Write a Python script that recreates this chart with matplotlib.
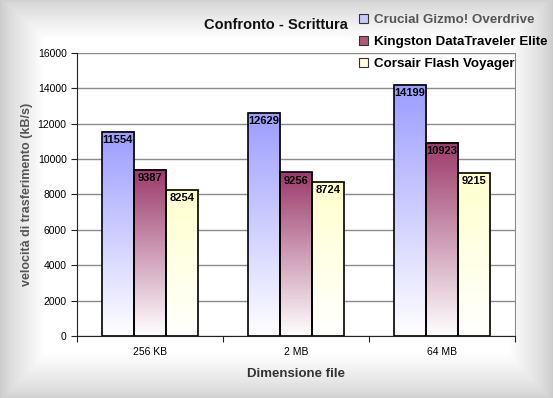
import numpy as np
import matplotlib
matplotlib.use('Agg')
import matplotlib.pyplot as plt
from matplotlib.patches import Patch
from matplotlib.colors import to_rgb

plt.rcParams['font.family'] = ['Liberation Sans', 'DejaVu Sans']

categories = ['256 KB', '2 MB', '64 MB']
series = ['Crucial Gizmo! Overdrive', 'Kingston DataTraveler Elite', 'Corsair Flash Voyager']
crucial = [11554, 12629, 14199]
kingston = [9387, 9256, 10923]
corsair = [8254, 8724, 9215]
values = [crucial, kingston, corsair]
top_colors = ['#9999ff', '#993366', '#ffffcc']
legend_colors = ['#c8c8ff', '#b05878', '#ffffdd']

W, H = 553, 398
fig = plt.figure(figsize=(W / 100, H / 100), dpi=100)

# vignette background
bg_ax = fig.add_axes([0, 0, 1, 1], zorder=-10)
yy, xx = np.mgrid[0:H, 0:W]
def fade(d, width, dark):
    return dark + (1 - dark) * np.clip(d / width, 0, 1) ** 0.8
shade = np.minimum.reduce([
    fade(xx, 45, 0.80),
    fade(W - 1 - xx, 45, 0.80),
    fade(yy, 40, 0.82),
    fade(H - 1 - yy, 45, 0.82),
])
bg_ax.imshow(shade, cmap='gray', vmin=0, vmax=1, aspect='auto', interpolation='bilinear')
bg_ax.axis('off')

ax = fig.add_axes([77 / W, 1 - 336 / H, 438 / W, 283 / H])
ax.set_facecolor('white')

x = np.arange(len(categories))
bw = 0.22
grad = np.linspace(1, 0, 256).reshape(-1, 1)
for i, (vals, col) in enumerate(zip(values, top_colors)):
    pos = x + (i - 1) * bw
    bars = ax.bar(pos, vals, bw, facecolor='none', edgecolor='black', linewidth=1.2, zorder=3)
    rgb = np.array(to_rgb(col))
    for b, v in zip(bars, vals):
        t = grad[:, :, None] * 0.97
        img = (1 - t) * np.ones(3) + t * rgb
        ax.imshow(img, extent=[b.get_x(), b.get_x() + bw, 0, v], aspect='auto',
                  zorder=2, interpolation='bilinear')
        ax.annotate(str(v), (b.get_x() + bw / 2, v), xytext=(0, -2.5), textcoords='offset points',
                    ha='center', va='top', fontsize=8, fontweight='bold', zorder=4)

ax.set_xlim(-0.5, 2.5)
ax.set_ylim(0, 16000)
ax.set_yticks(np.arange(0, 16001, 2000))
ax.yaxis.grid(True, color='#8c8c8c', linewidth=1)
ax.set_axisbelow(True)
ax.set_xticks([-0.5, 0.5, 1.5, 2.5])
ax.set_xticklabels([])
ax.set_xticks(x, minor=True)
ax.set_xticklabels(categories, minor=True)
ax.tick_params(axis='x', which='major', length=4, color='#222222')
ax.tick_params(axis='x', which='minor', length=0, pad=8, labelsize=7.5)
ax.tick_params(axis='y', length=4, labelsize=7.5, color='#222222')
for s in ['left', 'bottom']:
    ax.spines[s].set_color('#222222')
ax.spines['top'].set_visible(False)
ax.spines['right'].set_color('#8c8c8c')

ax.set_ylabel('velocità di trasferimento (kB/s)', fontsize=9, fontweight='bold', color='#555555', labelpad=3)
ax.set_xlabel('Dimensione file', fontsize=9.5, fontweight='bold', color='#333333', labelpad=8)

fig.text(276 / W, 1 - 25 / H, 'Confronto - Scrittura', ha='center', va='center',
         fontsize=10.5, fontweight='bold', color='#111111')

handles = [Patch(facecolor=c, edgecolor='#333333', linewidth=0.8) for c in legend_colors]
leg = fig.legend(handles, series, loc='upper left', bbox_to_anchor=(359 / W, 1 - 14 / H),
                 frameon=False, prop={'weight': 'bold', 'size': 9.6}, handlelength=0.7,
                 handleheight=0.7, handletextpad=0.45, labelspacing=0.72, borderaxespad=0,
                 borderpad=0)
leg.get_texts()[0].set_color('#555555')

fig.savefig('out.png', dpi=100)
